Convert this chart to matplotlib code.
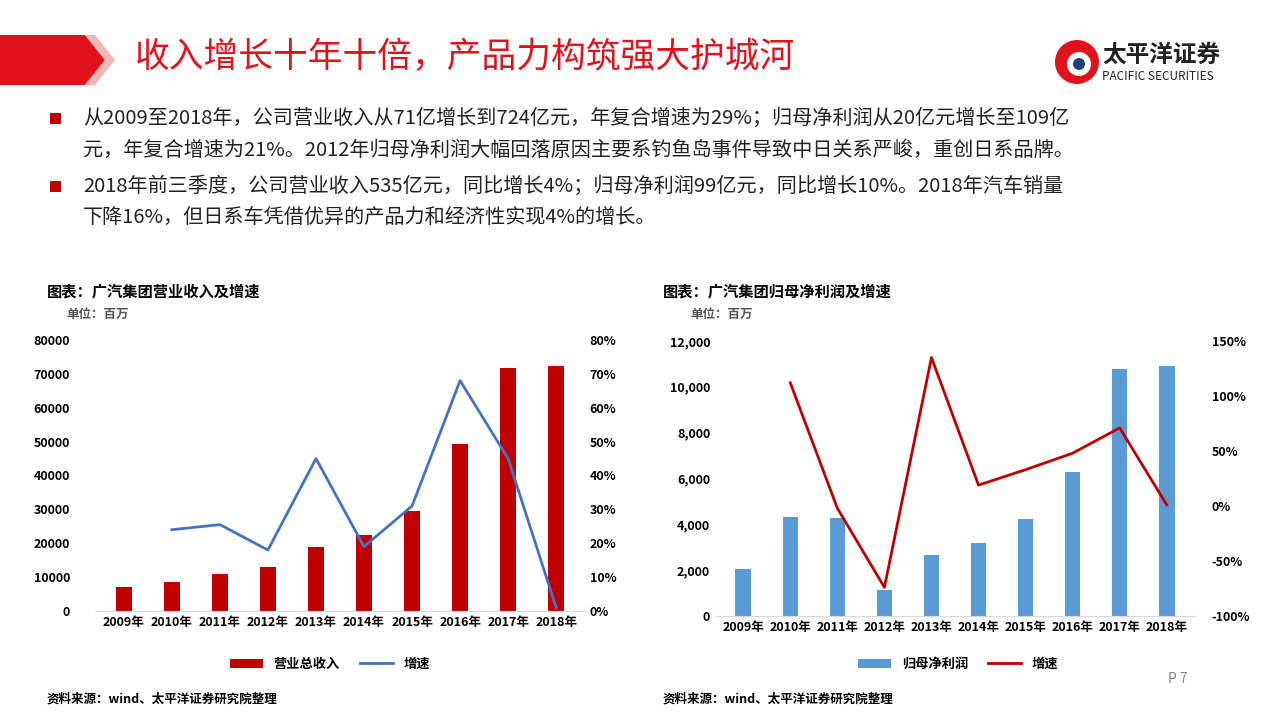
import matplotlib
matplotlib.use("Agg")
import matplotlib.pyplot as plt
from matplotlib.patches import Polygon, Rectangle, Ellipse
from matplotlib.ticker import FuncFormatter

plt.rcParams['font.family'] = ['Noto Sans CJK SC', 'DejaVu Sans']

years = ['2009年','2010年','2011年','2012年','2013年','2014年','2015年','2016年','2017年','2018年']
revenue = [7000, 8700, 11000, 13000, 18800, 22300, 29400, 49400, 71600, 72400]
rev_growth = [None, 24, 25.5, 18, 45, 19, 31, 68, 45, 1]
profit = [2050, 4300, 4270, 1150, 2680, 3200, 4230, 6280, 10780, 10900]
prof_growth = [None, 112, -2, -74, 135, 19, 33, 48, 71, 1]

RED = '#C00000'
BLUE = '#4472C4'
LBLUE = '#5B9BD5'
DRED = '#C00000'

fig = plt.figure(figsize=(12.8, 7.2), dpi=100)
W, H = 1280, 720
def fx(x): return x / W
def fy(y): return 1 - y / H

# header banner
fig.patches.append(Polygon([(fx(0), fy(35)), (fx(85), fy(35)), (fx(105), fy(60)), (fx(85), fy(85)), (fx(0), fy(85))],
                           closed=True, transform=fig.transFigure, facecolor='#E0121B', edgecolor='none'))
fig.patches.append(Polygon([(fx(85), fy(35)), (fx(95), fy(35)), (fx(115), fy(60)), (fx(95), fy(85)), (fx(85), fy(85)), (fx(105), fy(60))],
                           closed=True, transform=fig.transFigure, facecolor='#F2B8B8', edgecolor='none'))
fig.text(fx(135), fy(58), '收入增长十年十倍，产品力构筑强大护城河', color='#E0121B', fontsize=25, va='center')
# logo
fig.patches.append(Ellipse((fx(1077), fy(62)), 44 / W, 44 / H, transform=fig.transFigure, facecolor='#E0121B', edgecolor='none'))
fig.patches.append(Ellipse((fx(1079), fy(64)), 24 / W, 24 / H, transform=fig.transFigure, facecolor='white', edgecolor='none'))
fig.patches.append(Ellipse((fx(1079), fy(64)), 12 / W, 12 / H, transform=fig.transFigure, facecolor='#1F3F7F', edgecolor='none'))
fig.text(fx(1102), fy(55), '太平洋证券', fontsize=17, fontweight='bold', color='#222222', va='center')
fig.text(fx(1102), fy(77), 'PACIFIC SECURITIES', fontsize=8.5, color='#222222', va='center')

# bullets
bul = [(118, '从2009至2018年，公司营业收入从71亿增长到724亿元，年复合增速为29%；归母净利润从20亿元增长至109亿'),
       (150, '元，年复合增速为21%。2012年归母净利润大幅回落原因主要系钓鱼岛事件导致中日关系严峻，重创日系品牌。'),
       (186, '2018年前三季度，公司营业收入535亿元，同比增长4%；归母净利润99亿元，同比增长10%。2018年汽车销量'),
       (217, '下降16%，但日系车凭借优异的产品力和经济性实现4%的增长。')]
for y, t in bul:
    fig.text(fx(83), fy(y), t, fontsize=14.5, color='#222222', va='center')
for y in (118, 186):
    fig.patches.append(Rectangle((fx(50), fy(y + 6)), 11 / W, 11 / H, transform=fig.transFigure, facecolor=DRED, edgecolor='none'))

# captions
fig.text(fx(47), fy(291), '图表：广汽集团营业收入及增速', fontsize=11, fontweight='bold', va='center')
fig.text(fx(66), fy(314), '单位：百万', fontsize=9, fontweight='bold', color='#555555', va='center')
fig.text(fx(663), fy(291), '图表：广汽集团归母净利润及增速', fontsize=11, fontweight='bold', va='center')
fig.text(fx(690), fy(314), '单位：百万', fontsize=9, fontweight='bold', color='#555555', va='center')
fig.text(fx(47), fy(699), '资料来源：wind、太平洋证券研究院整理', fontsize=9, fontweight='bold', va='center')
fig.text(fx(663), fy(699), '资料来源：wind、太平洋证券研究院整理', fontsize=9, fontweight='bold', va='center')
fig.text(fx(1168), fy(679), 'P 7', fontsize=10, color='#888888', va='center')

x = list(range(len(years)))

def style(ax):
    for s in ['top', 'left', 'right']:
        ax.spines[s].set_visible(False)
    ax.spines['bottom'].set_color('#D9D9D9')
    ax.tick_params(length=0, labelsize=9)
    for lab in ax.get_xticklabels() + ax.get_yticklabels():
        lab.set_fontweight('bold')

# left chart
ax1 = fig.add_axes([fx(95), fy(611), 490 / W, 271 / H])
ax1.bar(x, revenue, width=0.33, color=RED, label='营业总收入')
ax1.set_ylim(0, 80000)
ax1.set_yticks(range(0, 80001, 10000))
ax1.set_xlim(-0.6, 9.6)
ax1.set_xticks(x)
ax1.set_xticklabels(years)
ax1b = ax1.twinx()
xs = [i for i, v in zip(x, rev_growth) if v is not None]
ax1b.plot(xs, [v for v in rev_growth if v is not None], color=BLUE, lw=2, label='增速')
ax1b.set_ylim(0, 80)
ax1b.set_yticks(range(0, 81, 10))
ax1b.yaxis.set_major_formatter(FuncFormatter(lambda v, p: f'{v:.0f}%'))
style(ax1); style(ax1b)
ax1.tick_params(axis='y', pad=18)
ax1b.spines['bottom'].set_visible(False)
h1, l1 = ax1.get_legend_handles_labels(); h2, l2 = ax1b.get_legend_handles_labels()
fig.legend(h1 + h2, l1 + l2, loc='center', bbox_to_anchor=(fx(330), fy(664)), ncol=2, frameon=False,
           prop={'size': 9.5, 'weight': 'bold'}, handlelength=2.5, columnspacing=1.5)

# right chart
ax2 = fig.add_axes([fx(715), fy(616), 480 / W, 275 / H])
ax2.bar(x, profit, width=0.33, color=LBLUE, label='归母净利润')
ax2.set_ylim(0, 12000)
ax2.set_yticks(range(0, 12001, 2000))
ax2.yaxis.set_major_formatter(FuncFormatter(lambda v, p: f'{v:,.0f}'))
ax2.set_xlim(-0.6, 9.6)
ax2.set_xticks(x)
ax2.set_xticklabels(years)
ax2b = ax2.twinx()
xs = [i for i, v in zip(x, prof_growth) if v is not None]
ax2b.plot(xs, [v for v in prof_growth if v is not None], color=DRED, lw=2, label='增速')
ax2b.set_ylim(-100, 150)
ax2b.set_yticks(range(-100, 151, 50))
ax2b.yaxis.set_major_formatter(FuncFormatter(lambda v, p: f'{v:.0f}%'))
style(ax2); style(ax2b)
ax2b.spines['bottom'].set_visible(False)
ax2b.tick_params(axis='y', pad=12)
h1, l1 = ax2.get_legend_handles_labels(); h2, l2 = ax2b.get_legend_handles_labels()
fig.legend(h1 + h2, l1 + l2, loc='center', bbox_to_anchor=(fx(958), fy(664)), ncol=2, frameon=False,
           prop={'size': 9.5, 'weight': 'bold'}, handlelength=2.5, columnspacing=1.5)

fig.savefig('out.png', dpi=100)
